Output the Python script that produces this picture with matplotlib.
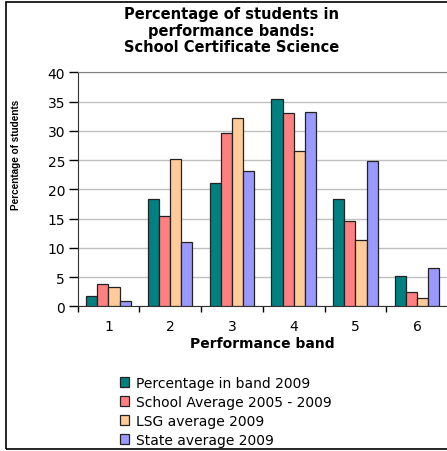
import matplotlib
matplotlib.use("Agg")
import matplotlib.pyplot as plt
from matplotlib.patches import Rectangle, Patch
import numpy as np

plt.rcParams['font.family'] = ['DejaVu Sans']

bands = ['1', '2', '3', '4', '5', '6']
band_2009 = [1.8, 18.3, 21.1, 35.4, 18.3, 5.2]
school_avg = [3.8, 15.5, 29.6, 33.0, 14.7, 2.4]
lsg_avg = [3.3, 25.2, 32.2, 26.6, 11.3, 1.4]
state_avg = [0.9, 11.1, 23.1, 33.3, 24.8, 6.6]

series = [band_2009, school_avg, lsg_avg, state_avg]
labels = ['Percentage in band 2009', 'School Average 2005 - 2009',
          'LSG average 2009', 'State average 2009']
colors = ['#008080', '#FF8080', '#FFCC99', '#9999FF']

fig = plt.figure(figsize=(4.47, 4.52), dpi=100)
ax = fig.add_axes([0.1734, 0.3197, 0.829, 0.5177])

x = np.arange(len(bands))
w = 0.18
for i, (vals, col) in enumerate(zip(series, colors)):
    ax.bar(x + (i - 1.5) * w, vals, w, color=col, edgecolor='#222222',
           linewidth=0.9, zorder=3)

ax.set_xlim(-0.5, len(bands) - 0.5)
ax.set_ylim(0, 40)
ax.set_yticks(range(0, 41, 5))
ax.yaxis.grid(True, color='#c0c0c0', linewidth=1, zorder=0)
ax.set_xticks(x)
ax.set_xticklabels(bands)
ax.set_xticks(np.arange(-0.5, len(bands)), minor=True)
ax.tick_params(axis='x', which='major', length=0, pad=9, labelsize=10)
ax.tick_params(axis='x', which='minor', length=4, width=1, direction='out')
ax.tick_params(axis='y', length=6.5, width=1, direction='out', labelsize=10, pad=2.5)

ax.spines['right'].set_visible(False)
ax.spines['top'].set_color('#808080')
ax.spines['left'].set_color('#333333')
ax.spines['bottom'].set_color('#333333')

ax.set_xlabel('Performance band', fontsize=10, fontweight='bold', labelpad=2)
ax.set_ylabel('Percentage of students', fontsize=7.2, fontweight='bold',
              family='Liberation Sans')
ax.yaxis.set_label_coords(-0.152, 0.652)

fig.text(0.518, 0.9314, 'Percentage of students in\nperformance bands:\nSchool Certificate Science',
         ha='center', va='center', fontsize=10.5, fontweight='bold', linespacing=1.12)

handles = [Patch(facecolor=c, edgecolor='#222222', linewidth=0.9) for c in colors]
fig.legend(handles, labels, loc='upper left', bbox_to_anchor=(0.268, 0.166),
           frameon=False, fontsize=10, handlelength=0.65, handleheight=0.65,
           handletextpad=0.5, labelspacing=0.36, borderaxespad=0, borderpad=0)

fig.patches.append(Rectangle((0.014, 0.005), 1.0, 0.988, transform=fig.transFigure,
                             fill=False, edgecolor='black', linewidth=1.2))

fig.savefig('out.png', dpi=100)
